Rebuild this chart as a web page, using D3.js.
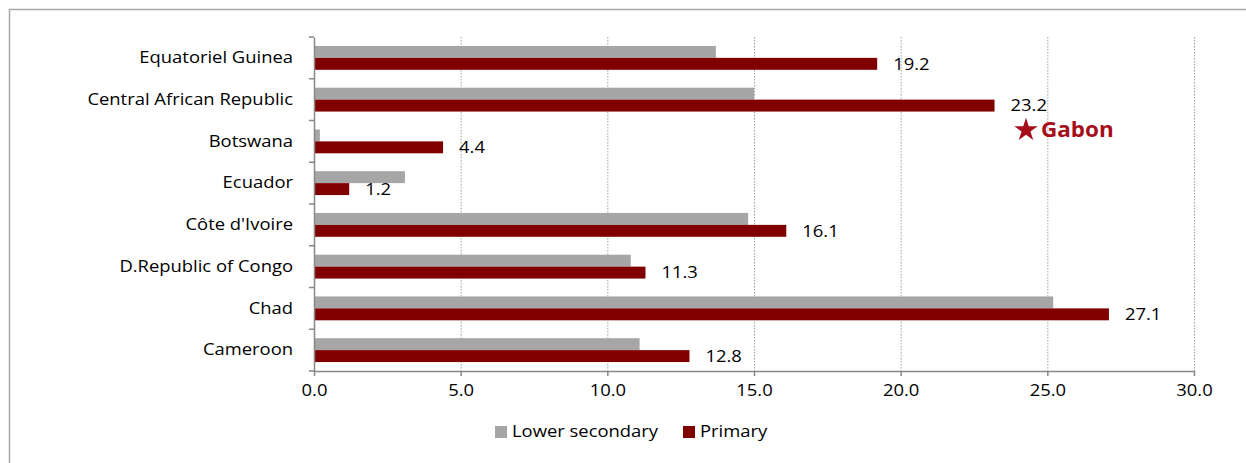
<!DOCTYPE html>
<html><head><meta charset="utf-8">
<script src="https://cdn.jsdelivr.net/npm/d3@7"></script>
<style>body{margin:0;background:#fff;} svg{display:block;}</style>
</head><body>
<svg id="chart" width="1246" height="463"></svg>
<script>
const categories = ["Equatoriel Guinea","Central African Republic","Botswana","Ecuador","Côte d'Ivoire","D.Republic of Congo","Chad","Cameroon"];
const lowerSecondary = [13.7, 15.0, 0.2, 3.1, 14.8, 10.8, 25.2, 11.1];
const primary = [19.2, 23.2, 4.4, 1.2, 16.1, 11.3, 27.1, 12.8];
const xTicks = [0, 5, 10, 15, 20, 25, 30];
const seriesNames = ["Lower secondary", "Primary"];
const annotation = "Gabon";

const FONT = "'Open Sans', sans-serif";
const FS = 16;
const STRETCH = 1.15;
function stretch(sel, k){
  sel.each(function(){
    const L = this.getComputedTextLength();
    d3.select(this).attr("textLength", L*k).attr("lengthAdjust","spacingAndGlyphs");
  });
}
const svg = d3.select("#chart");
svg.append("rect").attr("x",9.5).attr("y",9.5).attr("width",1300).attr("height",600)
  .attr("fill","none").attr("stroke","#a6a6a6").attr("stroke-width",1.5);

const x = d3.scaleLinear().domain([0,30]).range([314,1194]);
const y = d3.scaleBand().domain(categories).range([37,371]);
const inner = d3.scaleBand().domain(seriesNames).range([0,y.bandwidth()]).paddingOuter(0.75).paddingInner(0);

// gridlines
svg.append("g").selectAll("line").data(xTicks.filter(d=>d>0)).join("line")
  .attr("x1",d=>x(d)+0.5).attr("x2",d=>x(d)+0.5).attr("y1",37).attr("y2",371)
  .attr("stroke","#a0a0a0").attr("stroke-width",1).attr("stroke-dasharray","1.5,1.5");

// bars
const rows = categories.map((c,i)=>({c, ls: lowerSecondary[i], p: primary[i]}));
const colors = {"Lower secondary":"#a6a6a6","Primary":"#800000"};
const g = svg.append("g");
g.selectAll("rect.ls").data(rows).join("rect").attr("class","ls")
  .attr("x",x(0)).attr("y",d=>y(d.c)+inner("Lower secondary"))
  .attr("width",d=>x(d.ls)-x(0)).attr("height",inner.bandwidth()).attr("fill",colors["Lower secondary"]);
g.selectAll("rect.p").data(rows).join("rect").attr("class","p")
  .attr("x",x(0)).attr("y",d=>y(d.c)+inner("Primary"))
  .attr("width",d=>x(d.p)-x(0)).attr("height",inner.bandwidth()).attr("fill",colors["Primary"]);
const labs = g.selectAll("text.lab").data(rows).join("text").attr("class","lab")
  .attr("x",d=>x(d.p)+16).attr("y",d=>y(d.c)+inner("Primary")+inner.bandwidth()/2+1.5)
  .attr("dominant-baseline","middle").attr("font-family",FONT).attr("font-size",FS).attr("fill","#000")
  .text(d=>d.p.toFixed(1));
stretch(labs, STRETCH);

// axes
const yAxis = d3.axisLeft(y).tickSize(0).tickPadding(21);
const ya = svg.append("g").attr("transform",`translate(${x(0)},0)`).call(yAxis);
ya.select(".domain").attr("stroke","#888").attr("stroke-width",1.5);
ya.selectAll("text").attr("font-family",FONT).attr("font-size",FS).attr("fill","#000");
stretch(ya.selectAll("text"), STRETCH);
const bounds = categories.map(c=>y(c)).concat([371]);
ya.append("g").selectAll("line").data(bounds).join("line")
  .attr("x1",-5).attr("x2",0).attr("y1",d=>d).attr("y2",d=>d).attr("stroke","#888").attr("stroke-width",1.5);

const xAxis = d3.axisBottom(x).tickValues(xTicks).tickFormat(d3.format(".1f")).tickSize(5).tickPadding(9).tickSizeOuter(0);
const xa = svg.append("g").attr("transform","translate(0,371)").call(xAxis);
xa.select(".domain").attr("stroke","#888").attr("stroke-width",1.5);
xa.selectAll(".tick line").attr("stroke","#888").attr("stroke-width",1.5);
xa.selectAll("text").attr("font-family",FONT).attr("font-size",FS).attr("fill","#000");
stretch(xa.selectAll("text"), STRETCH);

// annotation
const ann = svg.append("g").attr("fill","#a50f1b");
ann.append("path").attr("d", d3.symbol(d3.symbolStar, 170)())
  .attr("transform","translate(1026,130)");
const annT = ann.append("text").attr("x",1041).attr("y",137)
  .attr("font-family",FONT).attr("font-size",22).attr("font-weight","bold")
  .text(annotation);
stretch(annT, 1.02);

// legend
const lg = svg.append("g");
const legX = [495, 683];
seriesNames.forEach((s,i)=>{
  lg.append("rect").attr("x",legX[i]).attr("y",426).attr("width",12).attr("height",12).attr("fill",colors[s]);
  const t = lg.append("text").attr("x",legX[i]+17).attr("y",433).attr("dominant-baseline","middle")
    .attr("font-family",FONT).attr("font-size",FS).attr("fill","#000").text(s);
  stretch(t, STRETCH);
});
</script>
</body></html>
